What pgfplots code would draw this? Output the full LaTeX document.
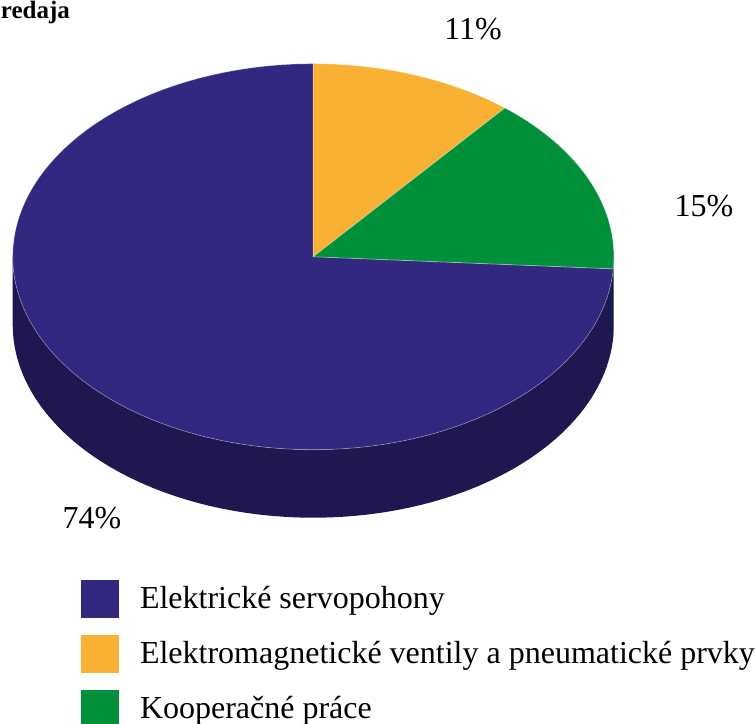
\documentclass[border=0pt]{standalone}
\usepackage{fontspec}
\setmainfont{Liberation Serif}
\usepackage{pgfplots}
\pgfplotsset{compat=1.18}
\usepgfplotslibrary{fillbetween}
\usepackage{pgfplotstable}
\definecolor{bluetop}{RGB}{50,40,128}
\definecolor{blueside}{RGB}{33,23,80}
\definecolor{orangetop}{RGB}{248,177,51}
\definecolor{greentop}{RGB}{0,144,58}
\definecolor{greenside}{RGB}{0,105,40}

\pgfplotstableread{
value
74
11
15
}\piedata

\begin{document}
\begin{tikzpicture}
\pgfplotstablegetelem{1}{value}\of\piedata \let\vOrange\pgfplotsretval
\pgfplotstablegetelem{2}{value}\of\piedata \let\vGreen\pgfplotsretval
\pgfmathsetmacro\oEnd{90-3.6*\vOrange}
\pgfmathsetmacro\gEnd{\oEnd-3.6*\vGreen}
\def\cx{313.3}\def\cy{256.7}\def\rx{300.6}\def\ry{193}\def\dep{68}
\begin{axis}[
  x=0.5pt, y=0.5pt,
  xmin=0, xmax=755, ymin=0, ymax=723,
  y dir=reverse,
  hide axis, clip=false,
  anchor=north west, at={(0,0)},
  every axis plot/.append style={forget plot},
  legend cell align=left,
  legend image code/.code={\fill[#1] (0pt,-9.5pt) rectangle (19pt,9.5pt); \path (29.5pt,0pt);},
  legend style={at={(axis cs:81,580)}, anchor=north west, draw=none, fill=none,
    inner sep=0pt, outer sep=0pt, row sep=8.5pt,
    font=\fontsize{16pt}{19pt}\selectfont, nodes={inner sep=0pt}},
]
% side walls
\addplot[name path=wtb, draw=none, domain=-180:\gEnd, samples=120, variable=\t]
  ({\cx+\rx*cos(\t)},{\cy-\ry*sin(\t)});
\addplot[name path=wbb, draw=none, domain=-180:\gEnd, samples=120, variable=\t]
  ({\cx+\rx*cos(\t)},{\cy+\dep-\ry*sin(\t)});
\addplot[fill=blueside, draw=none] fill between[of=wtb and wbb];
\addplot[name path=wtg, draw=none, domain=\gEnd:0, samples=10, variable=\t]
  ({\cx+\rx*cos(\t)},{\cy-\ry*sin(\t)});
\addplot[name path=wbg, draw=none, domain=\gEnd:0, samples=10, variable=\t]
  ({\cx+\rx*cos(\t)},{\cy+\dep-\ry*sin(\t)});
\addplot[fill=greenside, draw=none] fill between[of=wtg and wbg];
% top slices
\addplot[fill=bluetop, draw=white, draw opacity=0.3, line width=0.4pt, domain=-270:\gEnd, samples=200, variable=\t]
  ({\cx+\rx*cos(\t)},{\cy-\ry*sin(\t)}) -- (axis cs:\cx,\cy) -- cycle;
\addplot[fill=orangetop, draw=white, draw opacity=0.3, line width=0.4pt, domain=\oEnd:90, samples=40, variable=\t]
  ({\cx+\rx*cos(\t)},{\cy-\ry*sin(\t)}) -- (axis cs:\cx,\cy) -- cycle;
\addplot[fill=greentop, draw=white, draw opacity=0.3, line width=0.4pt, domain=\gEnd:\oEnd, samples=50, variable=\t]
  ({\cx+\rx*cos(\t)},{\cy-\ry*sin(\t)}) -- (axis cs:\cx,\cy) -- cycle;
% labels
\node[anchor=base, inner sep=0pt, font=\fontsize{16pt}{19pt}\selectfont] at (axis cs:473,39) {11\%};
\node[anchor=base, inner sep=0pt, font=\fontsize{16pt}{19pt}\selectfont] at (axis cs:704,216) {15\%};
\node[anchor=base, inner sep=0pt, font=\fontsize{16pt}{19pt}\selectfont] at (axis cs:92,528) {74\%};
\node[anchor=base west, inner sep=0pt, font=\fontsize{12.5pt}{15pt}\selectfont\bfseries] at (axis cs:0.5,18.5) {redaja};
% legend
\addlegendimage{fill=bluetop, draw=none}
\addlegendentry{Elektrické servopohony}
\addlegendimage{fill=orangetop, draw=none}
\addlegendentry{Elektromagnetické ventily a pneumatické prvky}
\addlegendimage{fill=greentop, draw=none}
\addlegendentry{Kooperačné práce}
\end{axis}
\pgfresetboundingbox
\path (0,0) rectangle (377.5pt,-361.5pt);
\end{tikzpicture}
\end{document}
